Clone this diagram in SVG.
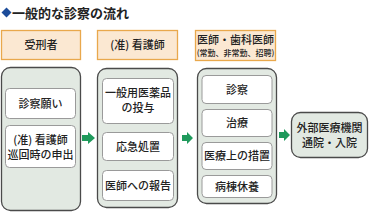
<svg xmlns="http://www.w3.org/2000/svg" width="371" height="215" viewBox="0 0 371 215">
<defs>
<style>
.t{font-family:"Noto Sans CJK JP","Noto Sans CJK SC",sans-serif;fill:#222;text-anchor:middle;font-weight:500}
.hd{fill:#fbe8d2;stroke:#e9a84c;stroke-width:1.3}
.col{fill:#e2e9e2;stroke:#4a4a4a;stroke-width:1.3}
.in{fill:#fff;stroke:#9a9a9a;stroke-width:1}
.arr{fill:#1f9a5c}
</style>
</defs>
<rect width="371" height="215" fill="#fff"/>
<g id="title">
<polygon points="6.5,7.5 11.5,12.5 6.5,17.5 1.5,12.5" fill="#1c4c9a"/>
<text class="t" x="12" y="17.5" style="text-anchor:start;font-size:13px;font-weight:bold">一般的な診察の流れ</text>
</g>
<g id="h1"><rect class="hd" x="1.5" y="30.5" width="79" height="29"/><text class="t" x="41" y="49" font-size="11">受刑者</text></g>
<g id="h2"><rect class="hd" x="97.5" y="30.5" width="80" height="29"/><text class="t" x="137.5" y="49" font-size="11">(准) 看護師</text></g>
<g id="h3"><rect class="hd" x="195.5" y="30.5" width="80" height="30"/><text class="t" x="235.5" y="44" font-size="11">医師・歯科医師</text><text class="t" x="235.5" y="56" font-size="8">(常勤、非常勤、招聘)</text></g>
<g id="c1">
<rect class="col" x="1.5" y="67.5" width="79" height="143" rx="9"/>
<g id="c1a"><rect class="in" x="5.5" y="88.5" width="70" height="30" rx="4"/><text class="t" x="40.5" y="107.5" font-size="11">診察願い</text></g>
<g id="c1b"><rect class="in" x="5.5" y="125.5" width="70" height="42" rx="4"/><text class="t" x="40.5" y="144" font-size="11">(准) 看護師</text><text class="t" x="40.5" y="159" font-size="11">巡回時の申出</text></g>
</g>
<g id="c2">
<rect class="col" x="97.5" y="68.5" width="80" height="139" rx="9"/>
<g id="c2a"><rect class="in" x="102.5" y="78.5" width="71" height="45" rx="4"/><text class="t" x="138" y="97" font-size="11">一般用医薬品</text><text class="t" x="138" y="112" font-size="11">の投与</text></g>
<g id="c2b"><rect class="in" x="102.5" y="132.5" width="71" height="28" rx="4"/><text class="t" x="138" y="150.5" font-size="11">応急処置</text></g>
<g id="c2c"><rect class="in" x="102.5" y="170.5" width="71" height="30" rx="4"/><text class="t" x="138" y="189.5" font-size="11">医師への報告</text></g>
</g>
<g id="c3">
<rect class="col" x="197.5" y="68.5" width="79" height="135" rx="9"/>
<g id="c3a"><rect class="in" x="202" y="75.5" width="70" height="28" rx="4"/><text class="t" x="237" y="93.5" font-size="11">診察</text></g>
<g id="c3b"><rect class="in" x="202" y="109.5" width="70" height="27" rx="4"/><text class="t" x="237" y="127" font-size="11">治療</text></g>
<g id="c3c"><rect class="in" x="202" y="142.5" width="70" height="27" rx="4"/><text class="t" x="237" y="160" font-size="11">医療上の措置</text></g>
<g id="c3d"><rect class="in" x="202" y="175.5" width="70" height="22" rx="4"/><text class="t" x="237" y="190.5" font-size="11">病棟休養</text></g>
</g>
<g id="out"><rect class="col" x="291.5" y="112.5" width="76" height="45" rx="9"/><text class="t" x="329.5" y="131.5" font-size="11">外部医療機関</text><text class="t" x="329.5" y="147" font-size="11">通院・入院</text></g>
<g id="connectors">
<polygon class="arr" points="82,135 88,135 88,132 95,138 88,144 88,141 82,141"/>
<polygon class="arr" points="182,135 187,135 187,132 193,138 187,144 187,141 182,141"/>
<polygon class="arr" points="279,132 284,132 284,129 290,135 284,141 284,138 279,138"/>
</g>
</svg>
